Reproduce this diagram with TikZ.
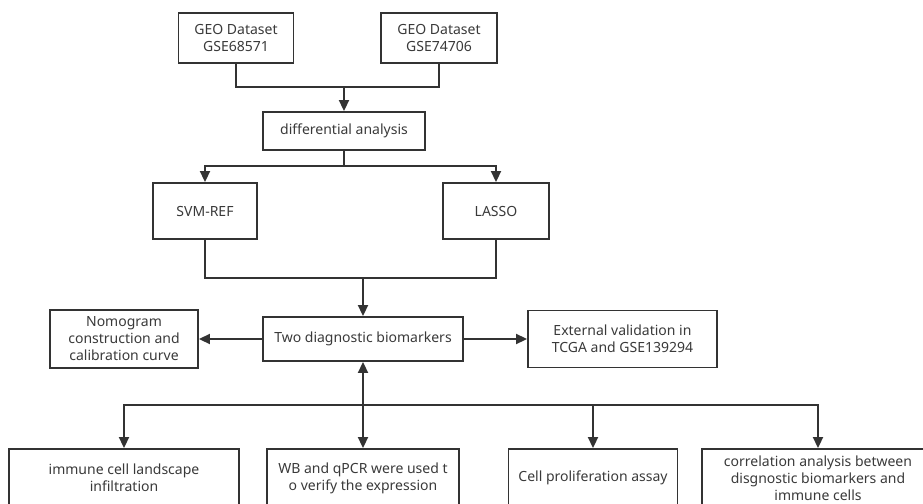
\documentclass[tikz,border=0pt]{standalone}
\usepackage{fontspec}
\setmainfont{Noto Sans}
\usetikzlibrary{arrows.meta}
\definecolor{ln}{HTML}{333333}
\definecolor{tx}{HTML}{3A3A3A}
\begin{document}
\begin{tikzpicture}[x=1pt,y=-1pt,
  box/.style={draw=ln,line width=1.9pt,rectangle,inner sep=0pt,align=center,
    text=tx,font=\fontsize{14}{17}\selectfont},
  conn/.style={draw=ln,line width=1.9pt},
  arr/.style={conn,-{Triangle[length=11pt,width=10pt]}},
  darr/.style={conn,{Triangle[length=11pt,width=10pt]}-{Triangle[length=11pt,width=10pt]}}]
\useasboundingbox (0,0) rectangle (923,503);
\clip (0,0) rectangle (923,503);
\fill[white] (0,0) rectangle (923,503);
% nodes
\node[box,minimum width=115pt,minimum height=50pt] (geo1) at (236,38) {GEO Dataset\\GSE68571};
\node[box,minimum width=116pt,minimum height=50pt] (geo2) at (439,38) {GEO Dataset\\GSE74706};
\node[box,minimum width=162pt,minimum height=38pt] (diff) at (344,131) {differential analysis};
\node[box,minimum width=104pt,minimum height=56pt] (svm) at (205,211) {SVM-REF};
\node[box,minimum width=106pt,minimum height=56pt] (lasso) at (496,211) {LASSO};
\node[box,minimum width=200pt,minimum height=44pt] (two) at (363,339) {Two diagnostic biomarkers};
\node[box,minimum width=148pt,minimum height=58pt] (nomo) at (124,339) {Nomogram\\construction and\\calibration curve};
\node[box,minimum width=189pt,minimum height=57pt] (ext) at (622.5,339) {External validation in\\TCGA and GSE139294};
\node[box,minimum width=230pt,minimum height=58pt] (imm) at (124,478) {immune cell landscape\\infiltration};
\node[box,minimum width=192pt,minimum height=58pt] (wb) at (363,478) {WB and qPCR were used t\\o verify the expression};
\node[box,minimum width=169pt,minimum height=58pt] (cell) at (593,478) {Cell proliferation assay};
\node[box,minimum width=232pt,minimum height=58pt] (corr) at (818,478) {correlation analysis between\\disgnostic biomarkers and\\immune cells};
% junctions
\coordinate (j1) at (344,87);
\coordinate (j2) at (344,166);
\coordinate (j3) at (363,278);
\coordinate (j4) at (363,405);
% connectors
\draw[conn] (geo1.south) |- (j1) -| (geo2.south);
\draw[arr] (j1) -- (diff.north);
\draw[conn] (diff.south) -- (j2);
\draw[arr] (j2) -| (svm.north);
\draw[arr] (j2) -| (lasso.north);
\draw[conn] (svm.south) |- (j3) -| (lasso.south);
\draw[arr] (j3) -- (two.north);
\draw[arr] (two.west) -- (nomo.east);
\draw[arr] (two.east) -- (ext.west);
\draw[darr] (two.south) -- (wb.north);
\draw[arr] (j4) -| (imm.north);
\draw[arr] (j4) -| (cell.north);
\draw[arr] (j4) -| (corr.north);
\end{tikzpicture}
\end{document}
